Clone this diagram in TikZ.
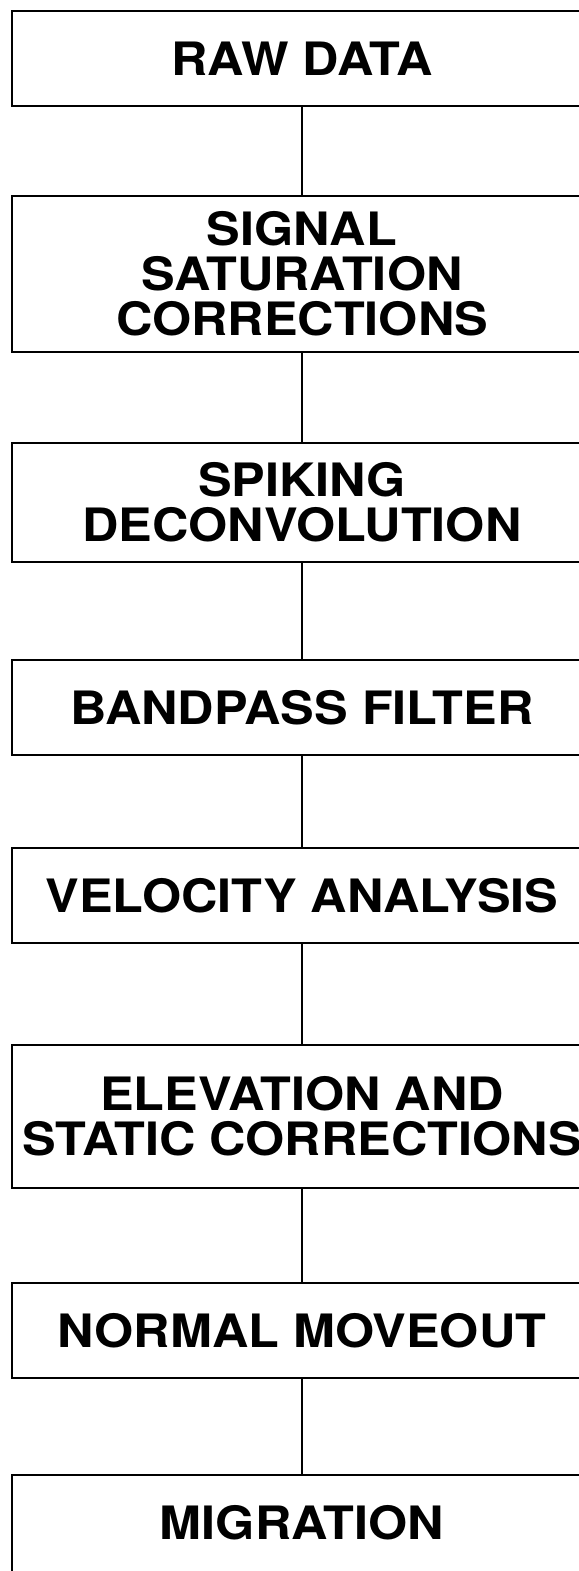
\documentclass[tikz,border=0pt]{standalone}
\usepackage{fontspec}
\setmainfont{TeX Gyre Heros}[FakeStretch=1.095]
\usetikzlibrary{positioning}

\begin{document}
\begin{tikzpicture}[x=0.5pt,y=-0.5pt,
  stage/.style={draw,line width=1.1pt,rectangle,inner sep=0pt,minimum width=290pt,
    align=center,font=\fontsize{23}{22.5}\selectfont\bfseries},
  link/.style={line width=0.8pt}]
\useasboundingbox (0,0) rectangle (579,1571);
\clip (0,0) rectangle (579,1571);
\node[stage,minimum height=47.5pt] (raw) at (302,58.5) {RAW DATA};
\node[stage,minimum height=78pt] (sat) at (302,274) {SIGNAL\\SATURATION\\CORRECTIONS};
\node[stage,minimum height=59.5pt] (spike) at (302,502.5) {SPIKING\\DECONVOLUTION};
\node[stage,minimum height=47.5pt] (band) at (302,707.5) {BANDPASS FILTER};
\node[stage,minimum height=47.5pt] (vel) at (302,895.5) {VELOCITY ANALYSIS};
\node[stage,minimum height=71.5pt] (elev) at (302,1116.5) {ELEVATION AND\\STATIC CORRECTIONS};
\node[stage,minimum height=47.5pt] (nmo) at (302,1330.5) {NORMAL MOVEOUT};
\node[stage,minimum height=60pt,text depth=12.5pt] (mig) at (302,1535) {MIGRATION};
\draw[link] (raw) -- (sat);
\draw[link] (sat) -- (spike);
\draw[link] (spike) -- (band);
\draw[link] (band) -- (vel);
\draw[link] (vel) -- (elev);
\draw[link] (elev) -- (nmo);
\draw[link] (nmo) -- (mig);
\end{tikzpicture}
\end{document}
